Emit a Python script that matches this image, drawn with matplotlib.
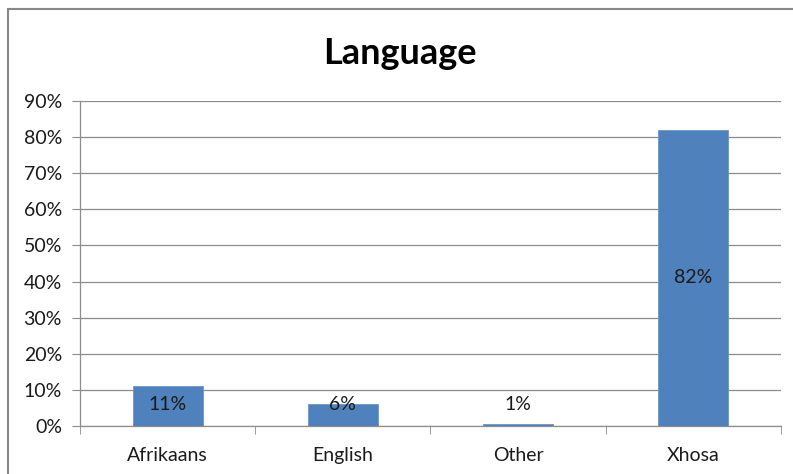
import matplotlib
matplotlib.use("Agg")
import matplotlib.pyplot as plt
from matplotlib.patches import Rectangle
from matplotlib.ticker import FuncFormatter, MultipleLocator

categories = ["Afrikaans", "English", "Other", "Xhosa"]
values = [11, 6, 0.5, 82]
labels = ["11%", "6%", "1%", "82%"]
title = "Language"

plt.rcParams['font.family'] = ['Lato', 'DejaVu Sans']

W, H = 793, 474
fig = plt.figure(figsize=(W / 100, H / 100), dpi=100)
fig.patches.append(Rectangle((8 / W, -0.01), 1.02, 1 - 9 / H + 0.01, transform=fig.transFigure,
                             fill=False, edgecolor="#888888", linewidth=1.5))

ax = fig.add_axes([80 / W, 1 - 426 / H, (781 - 80) / W, (426 - 101) / H])
x = list(range(len(categories)))
ax.bar(x, values, width=0.4, color="#4F81BD", edgecolor="#6D95C8", linewidth=0.6, zorder=3)
for xi, v, lab in zip(x, values, labels):
    ax.text(xi, max(v / 2, 6.0), lab, ha="center", va="center", fontsize=14, color="#1a1a1a", zorder=4)

ax.set_xlim(-0.5, len(categories) - 0.5)
ax.set_ylim(0, 90)
ax.yaxis.set_major_locator(MultipleLocator(10))
ax.yaxis.set_major_formatter(FuncFormatter(lambda v, p: f"{int(round(v))}%"))
ax.grid(axis="y", color="#8C8C8C", linewidth=0.9, zorder=0)
ax.set_xticks(x)
ax.set_xticklabels(categories)
ax.set_xticks([i - 0.5 for i in range(len(categories) + 1)], minor=True)
ax.tick_params(axis="x", which="major", length=0, pad=15, labelsize=14, labelcolor="#1a1a1a")
ax.tick_params(axis="x", which="minor", length=6, color="#8C8C8C", direction="out")
ax.tick_params(axis="y", length=6, color="#8C8C8C", labelsize=14, labelcolor="#1a1a1a", pad=7)
for s in ["top", "right"]:
    ax.spines[s].set_visible(False)
for s in ["left", "bottom"]:
    ax.spines[s].set_color("#8C8C8C")
    ax.spines[s].set_linewidth(0.9)

fig.text(400 / W, 1 - 53 / H, title, ha="center", va="center", fontsize=26, fontweight="bold", color="black")

fig.savefig("out.png", dpi=100)
